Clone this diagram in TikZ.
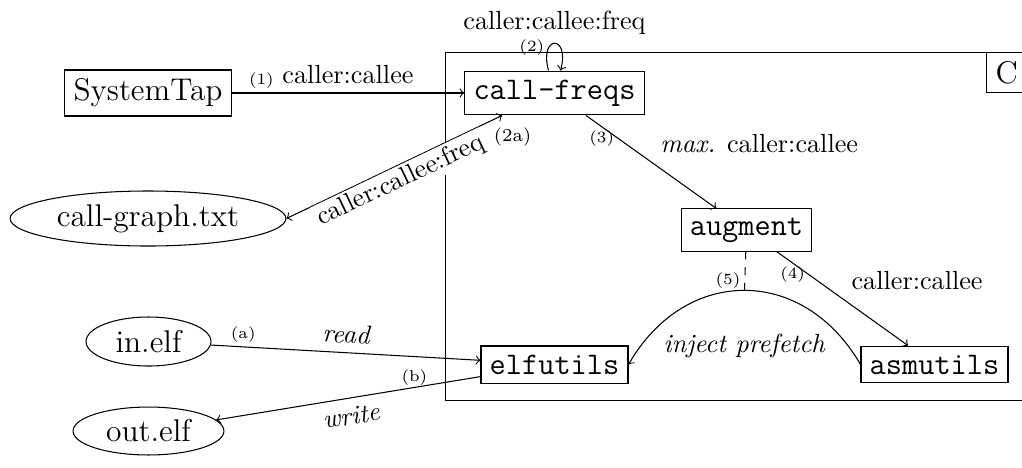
\documentclass[tikz,border=0pt]{standalone}
\usetikzlibrary{shapes.geometric}
\begin{document}
\begin{tikzpicture}[x=0.3817pt,y=-0.3817pt,
  box/.style={draw, rectangle, font=\large\ttfamily},
  rmbox/.style={draw, rectangle, font=\large},
  file/.style={draw, ellipse, inner sep=0pt, font=\large},
  lbl/.style={font=\normalsize},
  num/.style={font=\fontsize{6}{7}\selectfont, inner sep=1.5pt}]
\useasboundingbox (0,0) rectangle (1022,467);
% container
\node[draw, inner sep=0pt, minimum width=221.8pt, minimum height=132.8pt, anchor=north west] (cont) at (445,52) {};
\node[rmbox, anchor=north east] (clab) at (cont.north east) {C};
% nodes
\node[rmbox] (st) at (148,93) {SystemTap};
\node[box] (cf) at (554.5,93) {call-freqs};
\node[file, minimum width=105.3pt, minimum height=21pt] (cg) at (148,218.5) {call-graph.txt};
\node[box] (aug) at (746.5,230) {augment};
\node[box] (elf) at (554.5,364.5) {elfutils};
\node[box] (asm) at (934.5,364.5) {asmutils};
\node[file, minimum width=47.7pt, minimum height=18.7pt] (in) at (148.5,341.5) {in.elf};
\node[file, minimum width=57.6pt, minimum height=18.3pt] (out) at (148.5,431) {out.elf};
% connectors
\draw[->] (st) -- node[lbl, above] {caller:callee} node[num, pos=0.2, above left] {(1)} (cf);
\draw[->] (cf) to[loop above] node[lbl, above] {caller:callee:freq} node[num, pos=0.3, left] {(2)} (cf);
\coordinate (cfa) at ([xshift=-20pt]cf.south);
\draw[<->] (cg.east) -- node[lbl, below, sloped, fill=white, inner sep=1pt] {caller:callee:freq} node[font=\scriptsize, pos=1, below, xshift=4pt, yshift=-1pt] {(2a)} (cfa);
\draw[->] (cf) -- node[lbl, above right] {\emph{max.} caller:callee} node[num, pos=0.25, left] {(3)} (aug);
\draw[->] (aug) -- node[lbl, above right] {caller:callee} node[num, pos=0.25, left] {(4)} (asm);
\draw[->] (asm.west) to[out=120, in=60, looseness=1.26] coordinate[pos=0.5] (top) node[lbl, pos=0.5, below=13pt] {\emph{inject prefetch}} (elf.east);
\draw[dashed] (aug) -- node[num, pos=0.75, left] {(5)} (top);
\draw[->] (in) -- node[lbl, above, sloped] {\emph{read}} node[num, pos=0.12, above] {(a)} (elf);
\draw[->] (elf) -- node[lbl, below, sloped] {\emph{write}} node[num, pos=0.25, above, yshift=-1pt] {(b)} (out);
\end{tikzpicture}
\end{document}
